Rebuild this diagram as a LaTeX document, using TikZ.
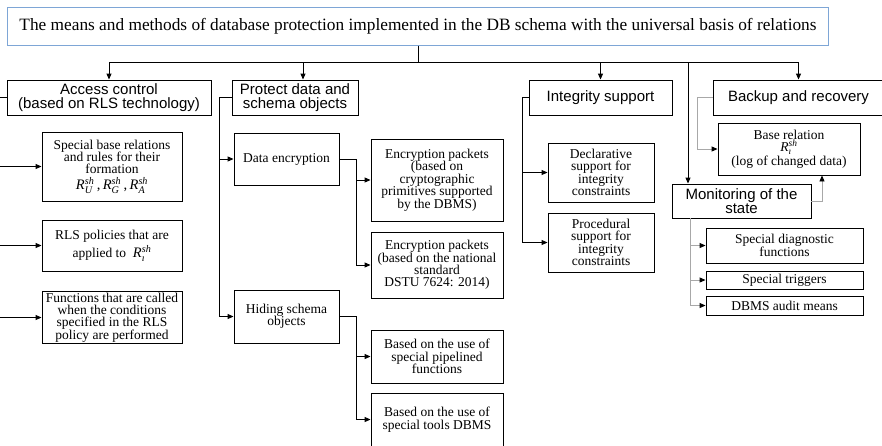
\documentclass[tikz,border=0pt]{standalone}
\usepackage{amsmath}
\usepackage{fontspec}
\setmainfont{Liberation Serif}
\newfontfamily\hdfont{Liberation Sans}
\usetikzlibrary{arrows.meta}

\definecolor{titleblue}{HTML}{7EA6D6}
\definecolor{linkgray}{HTML}{A8A8A8}

% relation symbol R with superscript "sh" and a subscript
\newcommand\Rsh[1]{\textit{R}$^{\textit{sh}}_{\textit{#1}}$}

\tikzset{
  box/.style={draw=black, line width=0.9pt, fill=white, align=center, inner sep=1pt,
    font=\fontsize{13.5}{12.4}\selectfont},
  headbox/.style={box, font=\hdfont\fontsize{15}{14.3}\selectfont},
  titlebox/.style={draw=titleblue, line width=1pt, fill=white, inner sep=1pt,
    font=\fontsize{17.3}{18}\selectfont},
  link/.style={draw=black, line width=0.9pt},
  arr/.style={link, -{Triangle[length=6pt,width=5pt]}},
  glink/.style={draw=linkgray, line width=0.9pt},
  garr/.style={glink, -{Triangle[length=6pt,width=5pt,color=black]}},
}

\begin{document}
\begin{tikzpicture}[x=1pt,y=-1pt]
\fill[white] (0,0) rectangle (882,445);
\useasboundingbox (0,0) rectangle (882,445);

% title
\node[titlebox, minimum width=821pt, minimum height=38pt] (title) at (418,26)
  {The means and methods of database protection implemented in the DB schema with the universal basis of relations};

% first level
\node[headbox, minimum width=204pt, minimum height=35pt] (access) at (109,97.5)
  {Access control\\(based on RLS technology)};
\node[headbox, minimum width=126pt, minimum height=35pt] (protect) at (295,97.5)
  {Protect data and\\schema objects};
\node[headbox, minimum width=143pt, minimum height=35pt] (integ) at (600.5,97.5)
  {Integrity support};
\node[headbox, minimum width=171pt, minimum height=35pt] (backup) at (798.5,97.5)
  {Backup and recovery};
\node[headbox, minimum width=139pt, minimum height=34pt] (monitor) at (741.5,201)
  {Monitoring of the\\state};

% access control
\node[box, minimum width=140pt, minimum height=69pt] (ac1) at (112,166.5)
  {Special base relations\\and rules for their\\formation\\[3pt] {\fontsize{14.5}{14}\selectfont\Rsh{U}\,,\,\Rsh{G}\,,\,\Rsh{A}}};
\node[box, minimum width=140pt, minimum height=51pt] (ac2) at (112,245.5)
  {RLS policies that are\\[2pt]applied to~ {\fontsize{14.5}{14}\selectfont\Rsh{\i}}};
\node[box, minimum width=140pt, minimum height=51pt] (ac3) at (112,317.5)
  {Functions that are called\\when the conditions\\specified in the RLS\\policy are performed};

% protect data and schema objects
\node[box, minimum width=105pt, minimum height=52pt] (enc) at (286.5,159)
  {Data encryption};
\node[box, minimum width=105pt, minimum height=53pt] (hiding) at (286.5,316.5)
  {Hiding schema\\objects};
\node[box, minimum width=132pt, minimum height=82pt] (enc1) at (437,180)
  {Encryption packets\\(based on\\cryptographic\\primitives supported\\by the DBMS)};
\node[box, minimum width=132pt, minimum height=66pt] (enc2) at (437,265)
  {Encryption packets\\(based on the national\\standard\\DSTU 7624: 2014)};
\node[box, minimum width=132pt, minimum height=53pt] (pipe) at (437,356.5)
  {Based on the use of\\special pipelined\\functions};
\node[box, minimum width=132pt, minimum height=53pt] (tools) at (437,419.5)
  {Based on the use of\\special tools DBMS};

% integrity support
\node[box, minimum width=106pt, minimum height=59pt] (decl) at (601,172.5)
  {Declarative\\support for\\integrity\\constraints};
\node[box, minimum width=106pt, minimum height=59pt] (proc) at (601,242.5)
  {Procedural\\support for\\integrity\\constraints};

% backup, recovery and monitoring
\node[box, minimum width=142pt, minimum height=52pt] (baserel) at (789,149)
  {Base relation\\\Rsh{\i}\\(log of changed data)};
\node[box, minimum width=157pt, minimum height=35pt] (diag) at (784.5,245.5)
  {Special diagnostic\\functions};
\node[box, minimum width=157pt, minimum height=18pt] (trig) at (784.5,280)
  {Special triggers};
\node[box, minimum width=157pt, minimum height=19pt] (audit) at (784.5,305.5)
  {DBMS audit means};

% bus from the title
\coordinate (busy) at (0,62);
\coordinate (monin) at (688,62);
\draw[link] (title.south) -- (title.south |- busy);
\draw[link] (access.north |- busy) -- (backup.north |- busy);
\draw[arr] (access.north |- busy) -- (access.north);
\draw[arr] ([xshift=8pt]protect.north |- busy) -- ([xshift=8pt]protect.north);
\draw[arr] (integ.north |- busy) -- (integ.north);
\draw[arr] (backup.north |- busy) -- (backup.north);
\draw[arr] (monin) -- (monin |- monitor.north);

% access control branches
\coordinate (acl) at (0,97.5);
\draw[link] (access.west) -- (acl);
\draw[arr] (ac1.west -| acl) -- (ac1.west);
\draw[arr] (ac2.west -| acl) -- (ac2.west);
\draw[arr] (ac3.west -| acl) -- (ac3.west);

% protection branches
\coordinate (pl) at (219,0);
\draw[link] (protect.west) -| (pl |- hiding.west);
\draw[arr] (pl |- enc.west) -- (enc.west);
\draw[arr] (pl |- hiding.west) -- (hiding.west);
\coordinate (el) at (356,0);
\draw[link] (enc.east) -| (el |- enc2.west);
\draw[arr] (el |- enc1.west) -- (enc1.west);
\draw[arr] (el |- enc2.west) -- (enc2.west);
\draw[link] (hiding.east) -| (el |- tools.west);
\draw[arr] (el |- pipe.west) -- (pipe.west);
\draw[arr] (el |- tools.west) -- (tools.west);

% integrity branches
\coordinate (il) at (522,0);
\draw[link] (integ.west) -| (il |- proc.west);
\draw[arr] (il |- decl.west) -- (decl.west);
\draw[arr] (il |- proc.west) -- (proc.west);

% backup and monitoring links
\coordinate (bl) at (697,0);
\draw[garr] (backup.west) -- (bl |- backup.west) |- (baserel.west);
\draw[garr] (monitor.east) -| ([xshift=33pt]baserel.south);
\coordinate (ml) at (690,0);
\draw[glink] (ml |- monitor.south) -- (ml |- audit.west);
\draw[garr] (ml |- diag.west) -- (diag.west);
\draw[garr] (ml |- trig.west) -- (trig.west);
\draw[garr] (ml |- audit.west) -- (audit.west);
\end{tikzpicture}
\end{document}
